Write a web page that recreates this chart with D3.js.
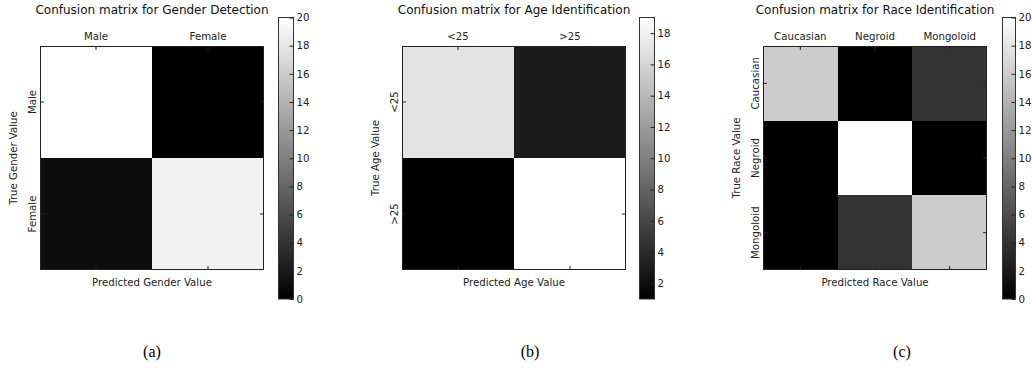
<!DOCTYPE html>
<html>
<head>
<meta charset="utf-8">
<script src="https://cdn.jsdelivr.net/npm/d3@7"></script>
<style>
    body { margin: 0; background: #fff; }
    svg { display: block; font-family: "DejaVu Sans", sans-serif; }
    .tick text { fill: #222; }
    .cell { shape-rendering: crispEdges; }
</style>
</head>
<body>
<svg id="chart" width="1032" height="369"></svg>
<script>
/**
 * Data.
 */
const genderLabels = ['Male', 'Female'],
    genderMatrix = [[20, 0], [1, 19]],
    genderRange = [0, 20],
    genderTicks = [0, 2, 4, 6, 8, 10, 12, 14, 16, 18, 20];

const ageLabels = ['<25', '>25'],
    ageMatrix = [[17, 3], [1, 19]],
    ageRange = [1, 19],
    ageTicks = [2, 4, 6, 8, 10, 12, 14, 16, 18];

const raceLabels = ['Caucasian', 'Negroid', 'Mongoloid'],
    raceMatrix = [[16, 0, 4], [0, 20, 0], [0, 4, 16]],
    raceRange = [0, 20],
    raceTicks = [0, 2, 4, 6, 8, 10, 12, 14, 16, 18, 20];

const panels = [
    { title: 'Confusion matrix for Gender Detection', xLabel: 'Predicted Gender Value', yLabel: 'True Gender Value',
        labels: genderLabels, matrix: genderMatrix, range: genderRange, ticks: genderTicks, tag: '(a)',
        left: 40, cbarLeft: 278, cbarWidth: 15, tagX: 152 },
    { title: 'Confusion matrix for Age Identification', xLabel: 'Predicted Age Value', yLabel: 'True Age Value',
        labels: ageLabels, matrix: ageMatrix, range: ageRange, ticks: ageTicks, tag: '(b)',
        left: 402, cbarLeft: 639, cbarWidth: 15, tagX: 530 },
    { title: 'Confusion matrix for Race Identification', xLabel: 'Predicted Race Value', yLabel: 'True Race Value',
        labels: raceLabels, matrix: raceMatrix, range: raceRange, ticks: raceTicks, tag: '(c)',
        left: 763, cbarLeft: 1002, cbarWidth: 13, tagX: 902 }
];

/**
 * Visual configs.
 */
const plotTop = 46, plotSize = 224,
    cbarTop = 17.5, cbarBottom = 299,
    tickLen = 4,
    titleSize = '12px', labelSize = '10.2px';

const svg = d3.select('#chart');

// Shared vertical gradient for the colour bars
const grad = svg.append('defs').append('linearGradient')
    .attr('id', 'grey').attr('x1', 0).attr('y1', 1).attr('x2', 0).attr('y2', 0);
grad.append('stop').attr('offset', 0).attr('stop-color', '#000');
grad.append('stop').attr('offset', 1).attr('stop-color', '#fff');

panels.forEach(drawPanel);

function drawPanel(p) {
    const g = svg.append('g').attr('transform', 'translate(' + p.left + ',' + plotTop + ')');

    const xScale = d3.scaleBand().domain(p.labels).range([0, plotSize]),
        yScale = d3.scaleBand().domain(p.labels).range([0, plotSize]),
        colorScale = d3.scaleLinear().domain(p.range).range(['#000', '#fff']).clamp(true);

    // Cells
    const cells = p.matrix.flatMap((row, i) => row.map((v, j) => ({ row: p.labels[i], col: p.labels[j], value: v })));
    g.selectAll('.cell').data(cells).enter().append('rect')
        .attr('class', 'cell')
        .attr('x', d => xScale(d.col))
        .attr('y', d => yScale(d.row))
        .attr('width', xScale.bandwidth())
        .attr('height', yScale.bandwidth())
        .attr('fill', d => colorScale(d.value));

    // Frame
    g.append('rect')
        .attr('x', 0.5).attr('y', 0.5)
        .attr('width', plotSize - 1).attr('height', plotSize - 1)
        .attr('fill', 'none').attr('stroke', '#222');

    // Axes, ticks pointing inward
    const styleAxis = sel => {
        sel.select('.domain').remove();
        sel.attr('font-family', null);
        sel.selectAll('.tick line').attr('stroke', '#222');
        sel.selectAll('.tick text').style('font-size', labelSize);
    };

    g.append('g').call(d3.axisTop(xScale).tickSize(-tickLen).tickPadding(6)).call(styleAxis);
    g.append('g').attr('transform', 'translate(0,' + plotSize + ')')
        .call(d3.axisBottom(xScale).tickSize(-tickLen).tickFormat('')).call(styleAxis);
    g.append('g').attr('transform', 'translate(' + plotSize + ',0)')
        .call(d3.axisRight(yScale).tickSize(-tickLen).tickFormat('')).call(styleAxis);
    const left = g.append('g').call(d3.axisLeft(yScale).tickSize(-tickLen).tickFormat('')).call(styleAxis);
    left.selectAll('.tick').append('text')
        .attr('transform', 'translate(-4,0) rotate(-90)')
        .attr('text-anchor', 'middle')
        .style('font-size', labelSize)
        .text(d => d);

    // Title & axis labels
    g.append('text')
        .attr('x', plotSize / 2).attr('y', -32)
        .attr('text-anchor', 'middle')
        .style('font-size', titleSize).attr('fill', '#111')
        .text(p.title);
    g.append('text')
        .attr('x', plotSize / 2).attr('y', plotSize + 16)
        .attr('text-anchor', 'middle')
        .style('font-size', labelSize).attr('fill', '#222')
        .text(p.xLabel);
    g.append('text')
        .attr('transform', 'translate(-23,' + plotSize / 2 + ') rotate(-90)')
        .attr('text-anchor', 'middle')
        .style('font-size', labelSize).attr('fill', '#222')
        .text(p.yLabel);

    // Colour bar
    const cScale = d3.scaleLinear().domain(p.range).range([cbarBottom, cbarTop]);
    const cb = svg.append('g').attr('transform', 'translate(' + p.cbarLeft + ',0)');
    cb.append('rect')
        .attr('x', 0.5).attr('y', cbarTop)
        .attr('width', p.cbarWidth).attr('height', cbarBottom - cbarTop)
        .attr('fill', 'url(#grey)').attr('stroke', '#333').attr('stroke-width', 1);
    cb.append('g').attr('transform', 'translate(' + (p.cbarWidth + 0.5) + ',0)')
        .call(d3.axisRight(cScale).tickValues(p.ticks).tickSize(-tickLen).tickPadding(3))
        .call(styleAxis);

    // Sub-figure tag
    svg.append('text')
        .attr('x', p.tagX).attr('y', 357)
        .attr('text-anchor', 'middle')
        .style('font-family', '"Liberation Serif", serif')
        .style('font-size', '16px')
        .text(p.tag);
}
</script>
</body>
</html>
